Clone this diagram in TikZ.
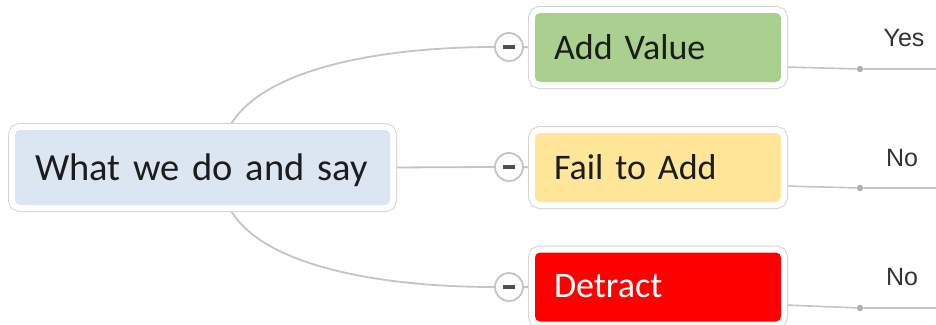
\documentclass[tikz,border=0pt]{standalone}
\usepackage{fontspec}
\setmainfont{Carlito}[WordSpace=0.8]
\newfontfamily\tagfont{Liberation Sans}
\usetikzlibrary{calc,backgrounds}

\definecolor{rootfill}{RGB}{220,230,242}
\definecolor{valuefill}{RGB}{169,208,142}
\definecolor{failfill}{RGB}{255,230,153}
\definecolor{detractfill}{RGB}{255,0,0}
\definecolor{rim}{RGB}{212,212,212}
\definecolor{wire}{RGB}{196,196,196}
\definecolor{ink}{RGB}{28,28,28}
\definecolor{knob}{RGB}{80,80,80}

\tikzset{
  topic/.style={rectangle, rounded corners=5pt, fill=#1, text=ink,
    align=left, inner sep=0pt, text depth=1.5pt,
    preaction={draw=rim, line width=14pt},
    preaction={draw=white, line width=12pt}},
  roottopic/.style={topic=rootfill, minimum width=375pt, minimum height=75pt,
    text width=335pt, font=\fontsize{38.5}{41}\selectfont},
  subtopic/.style={topic=#1, minimum width=246pt, minimum height=69pt,
    text width=208pt, font=\fontsize{36}{38}\selectfont},
  toggle/.style={circle, draw=wire, line width=1.8pt, fill=white,
    minimum size=28pt, inner sep=0pt},
  link/.style={draw=wire, line width=1.8pt},
  pin/.style={circle, fill=wire!90!black, minimum size=6.5pt, inner sep=0pt},
  answer/.style={font=\tagfont\fontsize{25}{27}\selectfont, text=ink!90, inner sep=0pt}
}

\newcommand{\minusbar}{\textcolor{knob}{\rule[-1.5pt]{12pt}{3.2pt}}}

\begin{document}
\begin{tikzpicture}[x=1pt,y=-1pt]
  \useasboundingbox (0,0) rectangle (936,324);

  % main topic and its three subtopics
  \node[roottopic] (root) at (202.5,167.5) {What we do and say};
  \node[subtopic=valuefill] (av) at (658,47.5) {Add Value};
  \node[subtopic=failfill] (fa) at (658,167.5) {Fail to Add};
  \node[subtopic=detractfill, text=white] (dt) at (658,287) {Detract};

  % collapse toggles
  \node[toggle] (t1) at (509,47) {\minusbar};
  \node[toggle] (t2) at (509,167) {\minusbar};
  \node[toggle] (t3) at (509,287) {\minusbar};

  % relation pins and open ends on the right
  \node[pin] (p1) at (860,69) {};
  \node[pin] (p2) at (860,188) {};
  \node[pin] (p3) at (860,308) {};
  \coordinate (e1) at (940,69);
  \coordinate (e2) at (940,188);
  \coordinate (e3) at (940,308);

  \node[answer] (l1) at (904,38) {Yes};
  \node[answer] (l2) at (902,158) {No};
  \node[answer] (l3) at (902,277) {No};

  \begin{pgfonlayer}{background}
    % branches from the main topic
    \draw[link] ($(root.north)+(25.5,0)$) .. controls +(30,-62) and +(-110,0) .. (t1.west);
    \draw[link] (root.east) -- (t2.west);
    \draw[link] ($(root.south)+(25.5,0)$) .. controls +(30,62) and +(-110,0) .. (t3.west);
    \draw[link] (t1.east) -- (av.west);
    \draw[link] (t2.east) -- (fa.west);
    \draw[link] (t3.east) -- (dt.west);
    % outgoing relations
    \draw[link, line width=1.6pt] ($(av.east)+(4,19.5)$) -- (p1) -- (e1);
    \draw[link, line width=1.6pt] ($(fa.east)+(4,18.5)$) -- (p2) -- (e2);
    \draw[link, line width=1.6pt] ($(dt.east)+(4,18)$) -- (p3) -- (e3);
  \end{pgfonlayer}
\end{tikzpicture}
\end{document}
